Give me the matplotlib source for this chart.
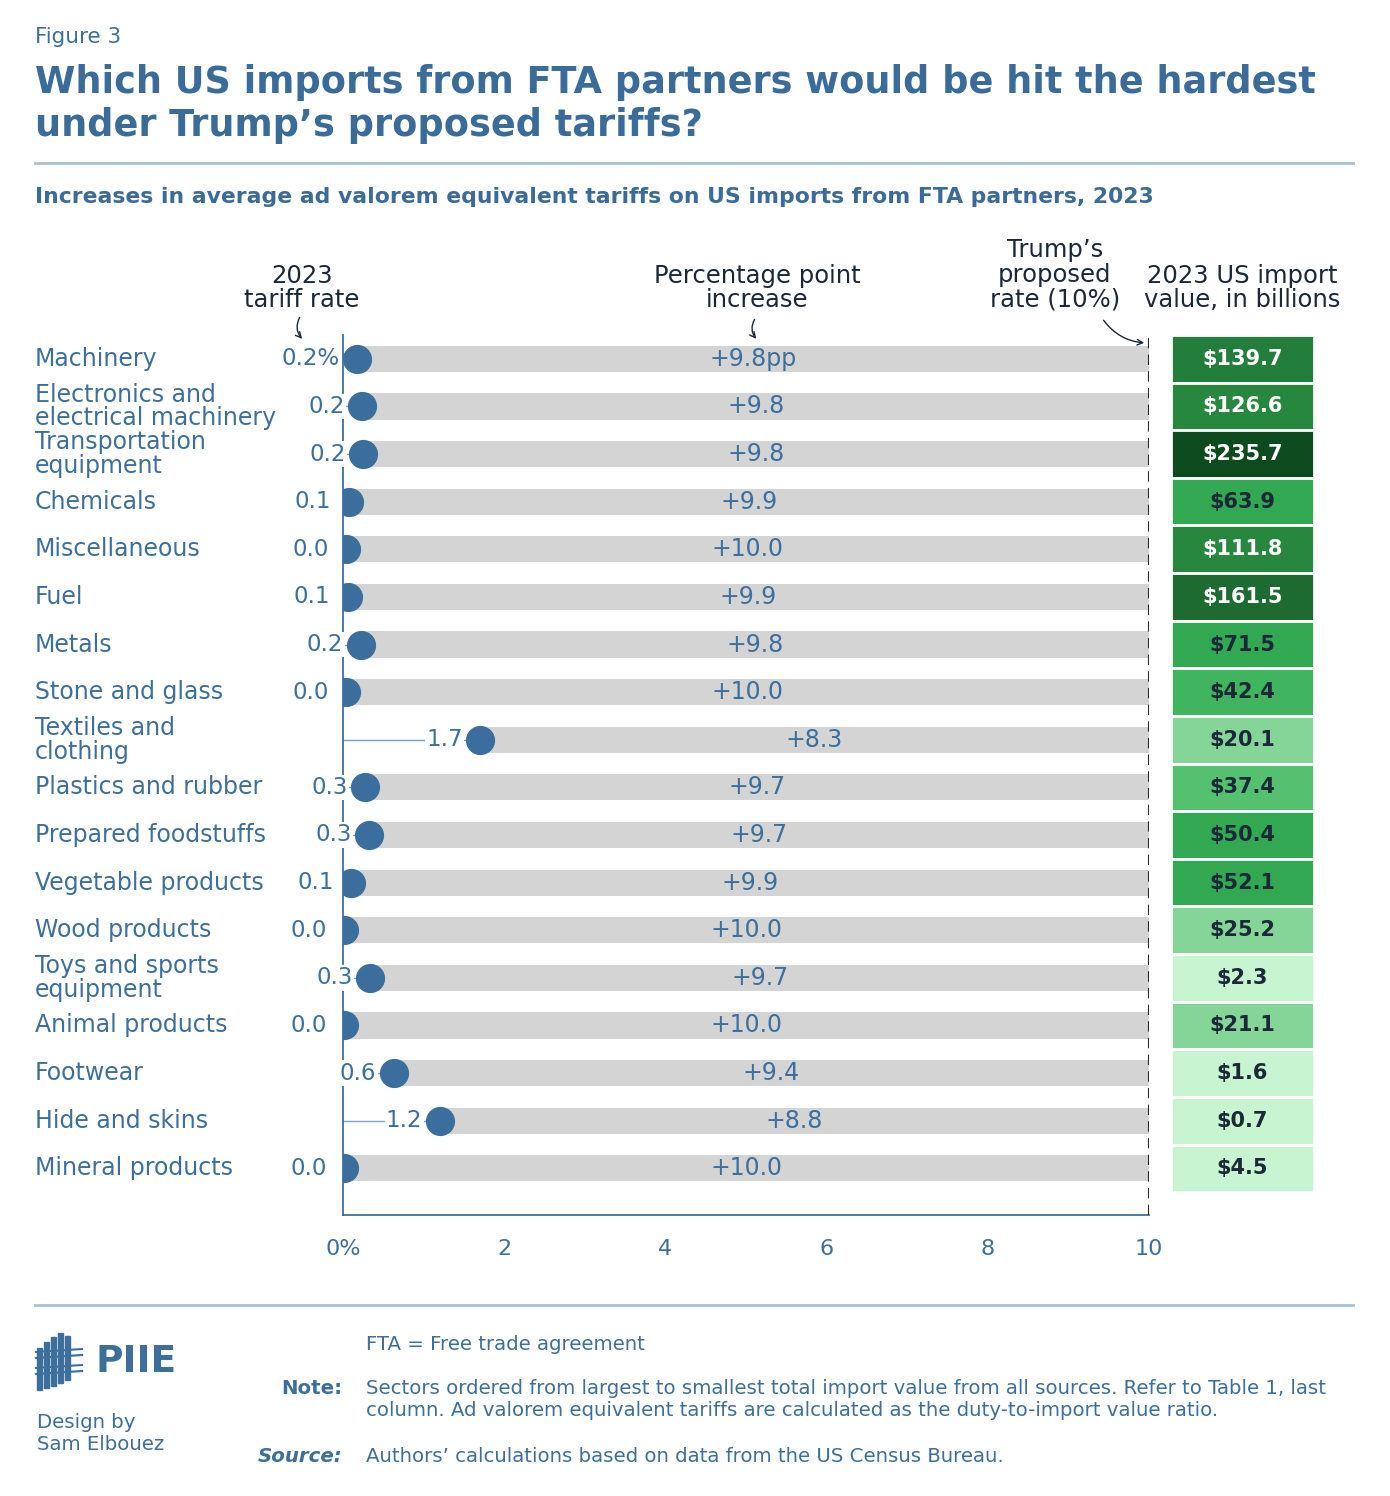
import matplotlib.pyplot as plt
from matplotlib.patches import Rectangle
from matplotlib.text import Annotation
import matplotlib.transforms as mtransforms

# data
sectors = ["Machinery", "Electronics and\nelectrical machinery", "Transportation\nequipment",
           "Chemicals", "Miscellaneous", "Fuel", "Metals", "Stone and glass",
           "Textiles and\nclothing", "Plastics and rubber", "Prepared foodstuffs",
           "Vegetable products", "Wood products", "Toys and sports\nequipment",
           "Animal products", "Footwear", "Hide and skins", "Mineral products"]
tariff_2023 = [0.17, 0.24, 0.25, 0.07, 0.04, 0.06, 0.22, 0.04, 1.70, 0.27, 0.32,
               0.10, 0.01, 0.34, 0.01, 0.63, 1.20, 0.01]
tariff_labels = ["0.2%", "0.2", "0.2", "0.1", "0.0", "0.1", "0.2", "0.0", "1.7", "0.3",
                 "0.3", "0.1", "0.0", "0.3", "0.0", "0.6", "1.2", "0.0"]
pp_increase = [9.8, 9.8, 9.8, 9.9, 10.0, 9.9, 9.8, 10.0, 8.3, 9.7, 9.7, 9.9, 10.0,
               9.7, 10.0, 9.4, 8.8, 10.0]
import_value = [139.7, 126.6, 235.7, 63.9, 111.8, 161.5, 71.5, 42.4, 20.1, 37.4, 50.4,
                52.1, 25.2, 2.3, 21.1, 1.6, 0.7, 4.5]
proposed_rate = 10
xticks = [0, 2, 4, 6, 8, 10]
xtick_labels = ["0%", "2", "4", "6", "8", "10"]

BLUE = "#3b6e9c"
TEXT_BLUE = "#3d6f9c"
DARK = "#1b2838"
W, H = 1390, 1496


def fx(px):
    return px / W


def fy(py):
    return 1 - py / H


def green(v):
    # binned green scale for import value
    if v >= 200:
        return "#0d4b1e"
    if v >= 150:
        return "#1d6b30"
    if v >= 130:
        return "#237d3b"
    if v >= 100:
        return "#27873f"
    if v >= 50:
        return "#33a853"
    if v >= 40:
        return "#41b460"
    if v >= 30:
        return "#55c06f"
    if v >= 20:
        return "#85d498"
    return "#c8f4d2"


plt.rcParams['font.family'] = ['DejaVu Sans']
fig = plt.figure(figsize=(W / 100, H / 100), dpi=100)

# main dot/bar axes
ax = fig.add_axes([fx(343), fy(1215), fx(1149) - fx(343), fy(335) - fy(1215)])
n = len(sectors)
rows = list(range(n))
ax.set_xlim(0, 10)
ax.set_ylim(17.98, -0.5)
label_tr = mtransforms.blended_transform_factory(fig.transFigure, ax.transData)

for i in rows:
    t = tariff_2023[i]
    ax.barh(i, proposed_rate - t, left=t, height=0.55, color="#d4d4d4", zorder=1)
    ax.plot([0, t], [i, i], color="#7c9fc2", lw=1, zorder=2)
    ax.plot(t, i, "o", ms=20, color=BLUE, zorder=4)
    ax.annotate(tariff_labels[i], (t, i), xytext=(-12.5, 0), textcoords="offset points",
                ha="right", va="center", fontsize=16.5, color=TEXT_BLUE, zorder=3,
                bbox=dict(boxstyle="square,pad=0.05", fc="white", ec="none"))
    lab = "+%.1f" % pp_increase[i] + ("pp" if i == 0 else "")
    ax.text((t + proposed_rate) / 2, i, lab, ha="center", va="center", fontsize=17,
            color=TEXT_BLUE, zorder=3)
    ax.text(fx(35), i, sectors[i], transform=label_tr, ha="left",
            va="center", fontsize=17, color=TEXT_BLUE, linespacing=0.98)

ax.axvline(proposed_rate, color="#2a2a2a", lw=1.5, ls=(0, (5, 3)), zorder=5)
for s in ["top", "right"]:
    ax.spines[s].set_visible(False)
for s in ["left", "bottom"]:
    ax.spines[s].set_color(TEXT_BLUE)
    ax.spines[s].set_linewidth(1.3)
ax.set_yticks([])
ax.set_xticks(xticks)
ax.set_xticklabels(xtick_labels)
ax.tick_params(axis="x", length=0, pad=17, labelsize=16, labelcolor=TEXT_BLUE)

# import value column
bx = fig.add_axes([fx(1171), fy(1215), fx(1314) - fx(1171), fy(335) - fy(1215)])
bx.set_xlim(0, 1)
bx.set_ylim(17.98, -0.5)
bx.axis("off")
for i in rows:
    v = import_value[i]
    bx.add_patch(Rectangle((0, i - 0.5), 1, 1, fc=green(v), ec="white", lw=2))
    bx.text(0.5, i, "$%.1f" % v, ha="center", va="center", fontsize=15,
            fontweight="bold", color="white" if v >= 100 else DARK)

# header text
fig.text(fx(35), fy(37), "Figure 3", fontsize=15.5, color=TEXT_BLUE, va="center")
fig.text(fx(35), fy(104), "Which US imports from FTA partners would be hit the hardest\n"
         "under Trump\u2019s proposed tariffs?", fontsize=26.4, fontweight="bold",
         color="#3a6b99", va="center", linespacing=1.2)
fig.add_artist(plt.Line2D([fx(35), fx(1353)], [fy(163), fy(163)], color="#a9c1d6", lw=2))
fig.text(fx(35), fy(197), "Increases in average ad valorem equivalent tariffs on US imports "
         "from FTA partners, 2023", fontsize=15.75, fontweight="bold",
         color="#3a6b99", va="center")

fig.text(fx(302), fy(288), "2023\ntariff rate", ha="center", va="center", fontsize=17.5,
         color=DARK, linespacing=1.05)
fig.text(fx(757), fy(288), "Percentage point\nincrease", ha="center", va="center",
         fontsize=17.5, color=DARK, linespacing=1.05)
fig.text(fx(1055), fy(275), "Trump\u2019s\nproposed\nrate (10%)", ha="center", va="center",
         fontsize=17.5, color=DARK, linespacing=1.05)
fig.text(fx(1242), fy(288), "2023 US import\nvalue, in billions", ha="center",
         va="center", fontsize=17.5, color=DARK, linespacing=1.05)

arrow = dict(arrowstyle="->", color=DARK, lw=1, connectionstyle="arc3,rad=0.4")
fig.add_artist(Annotation("", xy=(fx(304), fy(341)), xytext=(fx(301), fy(315)),
                          xycoords="figure fraction", arrowprops=arrow))
fig.add_artist(Annotation("", xy=(fx(758), fy(341)), xytext=(fx(756), fy(317)),
                          xycoords="figure fraction", arrowprops=arrow))
fig.add_artist(Annotation("", xy=(fx(1147), fy(343)), xytext=(fx(1102), fy(318)),
                          xycoords="figure fraction",
                          arrowprops=dict(arrowstyle="->", color=DARK, lw=1,
                                          connectionstyle="arc3,rad=0.25")))

# footer
fig.add_artist(plt.Line2D([fx(35), fx(1353)], [fy(1305), fy(1305)], color="#a9c1d6", lw=2))
fig.text(fx(366), fy(1344), "FTA = Free trade agreement", fontsize=14.2, color=TEXT_BLUE,
         va="center")
fig.text(fx(342), fy(1388), "Note:", fontsize=14.2, color=TEXT_BLUE, va="center", ha="right",
         fontweight="bold")
fig.text(fx(366), fy(1400), "Sectors ordered from largest to smallest total import value from "
         "all sources. Refer to Table 1, last\ncolumn. Ad valorem equivalent tariffs are "
         "calculated as the duty-to-import value ratio.", fontsize=14.2, color=TEXT_BLUE,
         va="center", linespacing=1.2)
fig.text(fx(342), fy(1457), "Source:", fontsize=14.2, color=TEXT_BLUE, va="center", ha="right",
         fontweight="bold", fontstyle="italic")
fig.text(fx(366), fy(1457), "Authors\u2019 calculations based on data from the US Census Bureau.",
         fontsize=14.2, color=TEXT_BLUE, va="center")

# PIIE logo (rough)
for x0, top, bot in [(37, 1348, 1390), (44, 1342, 1388), (51, 1337, 1386),
                     (58, 1333, 1383), (65, 1336, 1380)]:
    fig.add_artist(Rectangle((fx(x0), fy(bot)), fx(5), (bot - top) / H, color=TEXT_BLUE,
                             transform=fig.transFigure))
for yy in [1352, 1358, 1368, 1374]:
    fig.add_artist(plt.Line2D([fx(36), fx(82)], [fy(yy), fy(yy - 3)], color=TEXT_BLUE, lw=1.5))
fig.text(fx(95), fy(1362), "PIIE", fontsize=27, fontweight="bold", color=TEXT_BLUE, va="center")
fig.text(fx(37), fy(1434), "Design by\nSam Elbouez", fontsize=14.2, color=TEXT_BLUE,
         va="center", linespacing=1.2)

fig.savefig("out.png", dpi=100)
